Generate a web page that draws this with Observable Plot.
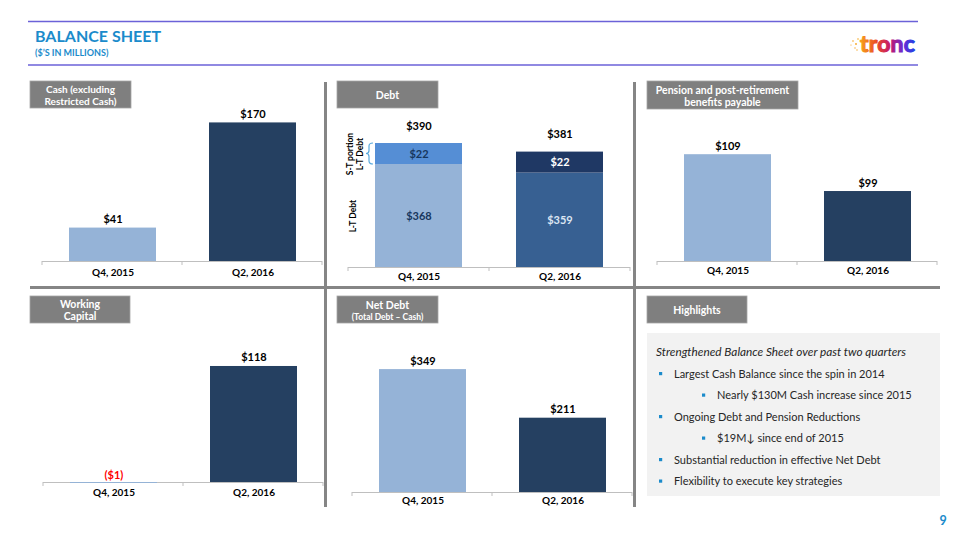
<!DOCTYPE html>
<html><head><meta charset="utf-8">
<script src="https://cdn.jsdelivr.net/npm/d3@7"></script>
<script src="https://cdn.jsdelivr.net/npm/@observablehq/plot@0.6"></script>
<style>
html,body{margin:0;padding:0;background:#fff;}
#page{position:relative;width:960px;height:540px;overflow:hidden;font-family:Lato,"Open Sans",sans-serif;}
.chart{position:absolute;}
#deco{position:absolute;left:0;top:0;}
#deco text{font-family:Lato,"Open Sans",sans-serif;}
</style></head>
<body>
<div id="page">
<svg id="deco" width="960" height="540">
  <defs>
    <linearGradient id="tg" x1="0" x2="1" y1="0" y2="0">
      <stop offset="0" stop-color="#f7a21b"/>
      <stop offset="0.3" stop-color="#ea4a25"/>
      <stop offset="0.55" stop-color="#c2186f"/>
      <stop offset="0.78" stop-color="#6a2bd1"/>
      <stop offset="1" stop-color="#1f3fe6"/>
    </linearGradient>
  </defs>
  <line x1="28" x2="918" y1="21.5" y2="21.5" stroke="#6b62d8" stroke-width="1.5"/>
  <line x1="28" x2="918" y1="65" y2="65" stroke="#6b62d8" stroke-width="1.5"/>
  <text x="35" y="41.5" font-size="16" font-weight="bold" fill="#1b8bcb">BALANCE SHEET</text>
  <text x="35" y="55.5" font-size="9" font-weight="bold" fill="#1b8bcb">($’S IN MILLIONS)</text>
  <g fill="#f6a623">
    <circle cx="853" cy="41" r="0.8"/><circle cx="856" cy="44" r="0.9"/><circle cx="855" cy="48" r="0.7"/>
    <circle cx="858" cy="39" r="0.8"/><circle cx="851" cy="45" r="0.6"/><circle cx="857" cy="50" r="0.7"/>
  </g>
  <text x="860" y="52" font-size="23" font-weight="bold" fill="url(#tg)" stroke="url(#tg)" stroke-width="1.1" letter-spacing="0.2">tronc</text>

  <!-- dividers -->
  <line x1="30" x2="940" y1="287.5" y2="287.5" stroke="#858585" stroke-width="3"/>
  <line x1="325.5" x2="325.5" y1="82" y2="507" stroke="#858585" stroke-width="3"/>
  <line x1="634.5" x2="634.5" y1="82" y2="507" stroke="#858585" stroke-width="3"/>

  <!-- panel title boxes -->
  <g font-weight="bold" fill="#fff" text-anchor="middle">
    <rect x="30" y="81" width="101" height="27" fill="#7f7f7f" stroke="#a6a6a6" stroke-width="0.8"/>
    <text x="80.5" y="93" font-size="10">Cash (excluding</text>
    <text x="80.5" y="105" font-size="10">Restricted Cash)</text>
    <rect x="337" y="81" width="101" height="27" fill="#7f7f7f" stroke="#a6a6a6" stroke-width="0.8"/>
    <text x="387.5" y="99" font-size="10.5">Debt</text>
    <rect x="647" y="81" width="151" height="28" fill="#7f7f7f" stroke="#a6a6a6" stroke-width="0.8"/>
    <text x="722.5" y="93.5" font-size="10.5">Pension and post-retirement</text>
    <text x="722.5" y="105.5" font-size="10.5">benefits payable</text>
    <rect x="30" y="296" width="100" height="27" fill="#7f7f7f" stroke="#a6a6a6" stroke-width="0.8"/>
    <text x="80" y="307.5" font-size="10.5">Working</text>
    <text x="80" y="319.5" font-size="10.5">Capital</text>
    <rect x="337" y="296" width="101" height="27" fill="#7f7f7f" stroke="#a6a6a6" stroke-width="0.8"/>
    <text x="387.5" y="308.5" font-size="10.5">Net Debt</text>
    <text x="387.5" y="319.5" font-size="8.5">(Total Debt – Cash)</text>
    <rect x="647" y="296" width="100" height="27" fill="#7f7f7f" stroke="#a6a6a6" stroke-width="0.8"/>
    <text x="697" y="314" font-size="10.5">Highlights</text>
  </g>
  <rect x="647" y="333" width="293" height="163" fill="#f2f2f2"/>
  <g id="highlights"></g>
  <text x="943" y="525" font-size="12.5" font-weight="bold" fill="#1b8bcb" text-anchor="middle">9</text>
</svg>
</div>
<script>
// ---------- data ----------
const periods = ["Q4, 2015", "Q2, 2016"];
const cashValues = [41, 170];
const ltDebtValues = [368, 359];
const stDebtValues = [22, 22];
const debtTotals = [390, 381];
const pensionValues = [109, 99];
const workingCapitalValues = [-1, 118];
const netDebtValues = [349, 211];
const highlightLines = [
  {text: "Strengthened Balance Sheet over past two quarters", level: 0},
  {text: "Largest Cash Balance since the spin in 2014", level: 1},
  {text: "Nearly $130M Cash increase since 2015", level: 2},
  {text: "Ongoing Debt and Pension Reductions", level: 1},
  {text: "$19M↓ since end of 2015", level: 2},
  {text: "Substantial reduction in effective Net Debt", level: 1},
  {text: "Flexibility to execute key strategies", level: 1}
];

// ---------- styles ----------
const FONT = "Lato, 'Open Sans', sans-serif";
const periodColors = ["#95b3d7", "#254061"];
const debtFill = {"Q4, 2015|L-T": "#95b3d7", "Q4, 2015|S-T": "#558ed5", "Q2, 2016|L-T": "#376092", "Q2, 2016|S-T": "#1f3864"};
const axisColor = "#bfbfbf";
const fmt = v => v < 0 ? `($${-v})` : `$${v}`;
const page = document.getElementById("page");

function addTicks(chart, baseline) {
  const r = chart.scale("x").range;
  d3.select(chart).append("g").selectAll("line").data([r[0], (r[0] + r[1]) / 2, r[1]]).join("line")
    .attr("x1", d => d).attr("x2", d => d).attr("y1", baseline).attr("y2", baseline + 4)
    .attr("stroke", axisColor);
}
function place(chart, left, top) {
  const div = document.createElement("div");
  div.className = "chart";
  div.style.left = left + "px"; div.style.top = top + "px";
  div.appendChild(chart);
  page.appendChild(div);
}

function simpleBar(values, cfg) {
  const data = periods.map((p, i) => ({period: p, value: values[i]}));
  const chart = Plot.plot({
    width: cfg.width, height: cfg.height,
    marginLeft: 20, marginRight: 20, marginTop: 20, marginBottom: 25,
    style: {background: "transparent", overflow: "visible", fontFamily: FONT, color: "#000"},
    x: {domain: periods, paddingInner: 0.38, paddingOuter: 0.19, axis: null},
    y: {domain: cfg.yDomain, clamp: !!cfg.clamp, zero: false, axis: null},
    color: {domain: periods, range: periodColors},
    marks: [
      Plot.ruleY([0], {stroke: axisColor}),
      Plot.barY(data, {x: "period", y: "value", fill: "period"}),
      Plot.text(data.filter(d => d.value >= 0), {x: "period", y: "value", text: d => fmt(d.value), lineAnchor: "bottom", dy: -5, fontSize: 11, fontWeight: "bold", fill: "#000"}),
      Plot.text(data.filter(d => d.value < 0), {x: "period", y: "value", text: d => fmt(d.value), lineAnchor: "bottom", dy: -4, fontSize: 11, fontWeight: "bold", fill: "#ff0000"}),
      Plot.text(periods, {x: d => d, frameAnchor: "bottom", dy: cfg.catDy, fontSize: 10, fontWeight: "bold", fill: "#000"})
    ]
  });
  addTicks(chart, cfg.height - 25);
  place(chart, cfg.left, cfg.top);
}

// Cash
simpleBar(cashValues, {left: 22, top: 80, width: 320, height: 206, yDomain: [0, 197.5], catDy: 14});
// Pension (truncated axis as in source)
simpleBar(pensionValues, {left: 637, top: 90, width: 320, height: 196, yDomain: [80, 121], clamp: true, catDy: 12});
// Working capital
simpleBar(workingCapitalValues, {left: 23, top: 310, width: 320, height: 197, yDomain: [0, 154.6], catDy: 13});
// Net debt
simpleBar(netDebtValues, {left: 332, top: 310, width: 320, height: 207, yDomain: [0, 460], catDy: 11});

// Debt (stacked, short-term portion emphasised with a piecewise scale as in source)
(function () {
  const height = 202, baseline = 177;
  const yDebt = d3.scaleLinear().domain([0, 340, 420]).range([baseline, 100.7, 24.4]);
  const rows = [];
  periods.forEach((p, i) => {
    rows.push({period: p, part: "L-T", value: ltDebtValues[i], lo: 0, hi: ltDebtValues[i]});
    rows.push({period: p, part: "S-T", value: stDebtValues[i], lo: ltDebtValues[i], hi: ltDebtValues[i] + stDebtValues[i]});
  });
  const midY = d => yDebt.invert((yDebt(d.lo) + yDebt(d.hi)) / 2);
  const totals = periods.map((p, i) => ({period: p, value: debtTotals[i]}));
  const lab = {x: "period", y: midY, text: d => fmt(d.value), fontSize: 11, fontWeight: "bold"};
  const q4 = rows[0], q4st = rows[1];
  const side = {y: midY, frameAnchor: "left", textAnchor: "middle", rotate: -90, fontSize: 8.5, fontWeight: "bold", fill: "#000"};
  const chart = Plot.plot({
    width: 322, height,
    marginLeft: 20, marginRight: 20, marginTop: 20, marginBottom: 25,
    style: {background: "transparent", overflow: "visible", fontFamily: FONT, color: "#000"},
    x: {domain: periods, paddingInner: 0.38, paddingOuter: 0.19, axis: null},
    y: {type: "linear", domain: yDebt.domain(), range: yDebt.range(), zero: false, axis: null},
    color: {domain: Object.keys(debtFill), range: Object.values(debtFill)},
    marks: [
      Plot.ruleY([0], {stroke: axisColor}),
      Plot.barY(rows, {x: "period", y: "value", fill: d => `${d.period}|${d.part}`}),
      Plot.text(rows.filter(d => d.period === periods[0]), {...lab, fill: "#17375e"}),
      Plot.text(rows.filter(d => d.period === periods[1] && d.part === "S-T"), {...lab, fill: "#ffffff"}),
      Plot.text(rows.filter(d => d.period === periods[1] && d.part === "L-T"), {...lab, fill: "#dce6f2"}),
      Plot.text(totals, {x: "period", y: "value", text: d => fmt(d.value), lineAnchor: "bottom", dy: -14, fontSize: 11, fontWeight: "bold", fill: "#000"}),
      Plot.text([q4st], {...side, text: () => "S-T portion", dx: 2}),
      Plot.text([q4st], {...side, text: () => "L-T Debt", dx: 12}),
      Plot.text([q4], {...side, text: () => "L-T Debt", dx: 5}),
      Plot.text(periods, {x: d => d, frameAnchor: "bottom", dy: 12, fontSize: 10, fontWeight: "bold", fill: "#000"})
    ]
  });
  addTicks(chart, baseline);
  // bracket for the short-term portion
  const xs = chart.scale("x");
  const bx = xs.apply(periods[0]) - 2;
  const y1 = yDebt(q4st.hi), y2 = yDebt(q4st.lo), ym = (y1 + y2) / 2;
  d3.select(chart).append("path")
    .attr("d", `M${bx},${y1} q-4,0 -4,3 V${ym - 3} q0,3 -3,3 q3,0 3,3 V${y2 - 3} q0,3 4,3`)
    .attr("fill", "none").attr("stroke", "#5aa9dc").attr("stroke-width", 1.2);
  place(chart, 328, 90);
})();

// Highlights list
(function () {
  const g = d3.select("#highlights");
  const xText = [656, 674, 717], xBullet = [null, 659, 702];
  highlightLines.forEach((d, i) => {
    const y = 356 + i * 21.5;
    g.append("text").attr("x", xText[d.level]).attr("y", y)
      .attr("font-size", d.level === 0 ? 11.8 : 11).attr("fill", "#262626")
      .attr("font-style", d.level === 0 ? "italic" : null)
      .text(d.text);
    if (d.level > 0) g.append("rect").attr("x", xBullet[d.level]).attr("y", y - 5.5).attr("width", 3.2).attr("height", 3.2).attr("fill", "#1b8bcb");
  });
})();
</script>
</body></html>
